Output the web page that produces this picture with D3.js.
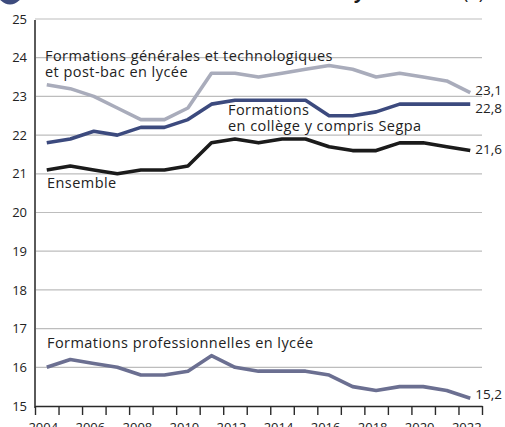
<!DOCTYPE html>
<html>
<head>
	<meta charset="utf-8">
	<title>Nombre moyen d'élèves</title>
	<script src="https://cdn.jsdelivr.net/npm/d3@7"></script>
	<style>
		body { margin: 0; background: #fff; }
		svg { display: block; font-family: "Open Sans", sans-serif; }
	</style>
</head>
<body>
<script type="text/javascript">

	//---- DATA ----//

	var years = d3.range(2004, 2023);
	var year_labels = [2004, 2006, 2008, 2010, 2012, 2014, 2016, 2018, 2020, 2022];
	var y_ticks = [15, 16, 17, 18, 19, 20, 21, 22, 23, 24, 25];

	var generales = [23.3, 23.2, 23.0, 22.7, 22.4, 22.4, 22.7, 23.6, 23.6, 23.5, 23.6, 23.7, 23.8, 23.7, 23.5, 23.6, 23.5, 23.4, 23.1];
	var college = [21.8, 21.9, 22.1, 22.0, 22.2, 22.2, 22.4, 22.8, 22.9, 22.9, 22.9, 22.9, 22.5, 22.5, 22.6, 22.8, 22.8, 22.8, 22.8];
	var ensemble = [21.1, 21.2, 21.1, 21.0, 21.1, 21.1, 21.2, 21.8, 21.9, 21.8, 21.9, 21.9, 21.7, 21.6, 21.6, 21.8, 21.8, 21.7, 21.6];
	var professionnelles = [16.0, 16.2, 16.1, 16.0, 15.8, 15.8, 15.9, 16.3, 16.0, 15.9, 15.9, 15.9, 15.8, 15.5, 15.4, 15.5, 15.5, 15.4, 15.2];

	var series = [
		{name: "generales", values: generales, color: "#a9acbb", end: "23,1", dy: -2},
		{name: "college", values: college, color: "#3c4a7e", end: "22,8", dy: 4},
		{name: "ensemble", values: ensemble, color: "#1b1b1b", end: "21,6", dy: -1},
		{name: "professionnelles", values: professionnelles, color: "#6b6f91", end: "15,2", dy: -4}
	];

	//---- CHART ----//

	var svg = d3.select("body").append("svg")
		.attr("width", 505)
		.attr("height", 427);

	var x = d3.scaleLinear().domain([2003.5, 2022.5]).range([35, 482]);
	var y = d3.scaleLinear().domain([15, 25]).range([406, 19]);

	// title (cut off at the top of the picture)
	svg.append("circle")
		.attr("cx", 10)
		.attr("cy", -8)
		.attr("r", 12.5)
		.attr("fill", "#3d4b7d");
	var title = svg.append("text")
		.attr("x", 484)
		.attr("y", -1)
		.attr("text-anchor", "end")
		.attr("font-size", 18)
		.attr("fill", "#1b1b1b");
	title.append("tspan")
		.attr("font-weight", "bold")
		.attr("font-style", "italic")
		.text("Nombre moyen d’élèves ");
	title.append("tspan").text("(1)");

	// gridlines
	svg.append("g")
		.selectAll("line")
		.data(y_ticks.slice(1))
		.enter()
			.append("line")
			.attr("x1", x(2003.5))
			.attr("x2", x(2022.5))
			.attr("y1", function(d) { return y(d); })
			.attr("y2", function(d) { return y(d); })
			.attr("stroke", "#bdbdbd")
			.attr("stroke-width", 1.2);

	// y axis
	var yAxis = svg.append("g")
		.attr("transform", "translate(" + x(2003.5) + ",0)")
		.call(d3.axisLeft(y).tickValues(y_ticks).tickSize(0).tickPadding(8));
	yAxis.select(".domain")
		.attr("stroke", "#5a5a5a")
		.attr("stroke-width", 2)
		.attr("d", "M0," + (y(25) + 1) + "V" + (y(15) + 2));
	yAxis.selectAll("text")
		.attr("font-size", 13)
		.attr("fill", "#222")
		.attr("font-family", "Open Sans, sans-serif");

	// x axis : ticks between the years
	var xAxis = svg.append("g")
		.attr("transform", "translate(0," + y(15) + ")")
		.call(d3.axisBottom(x)
			.tickValues(years.map(function(d) { return d - 0.5; }).concat([2022.5]))
			.tickSize(9)
			.tickSizeOuter(0)
			.tickFormat(""));
	xAxis.select(".domain").attr("stroke", "#2a2a2a").attr("stroke-width", 1.6);
	xAxis.selectAll(".tick line").attr("stroke", "#2a2a2a").attr("stroke-width", 1.4);

	var xLabels = svg.append("g")
		.attr("transform", "translate(-4," + y(15) + ")")
		.call(d3.axisBottom(x).tickValues(year_labels).tickSize(0).tickPadding(17).tickFormat(d3.format("d")));
	xLabels.select(".domain").remove();
	xLabels.selectAll("text")
		.attr("font-size", 13)
		.attr("fill", "#222")
		.attr("font-family", "Open Sans, sans-serif");

	// lines
	var line = d3.line()
		.x(function(d, i) { return x(years[i]); })
		.y(function(d) { return y(d); });

	svg.append("g")
		.selectAll("path")
		.data(series)
		.enter()
			.append("path")
			.attr("d", function(s) { return line(s.values); })
			.attr("fill", "none")
			.attr("stroke", function(s) { return s.color; })
			.attr("stroke-width", 3.6)
			.attr("stroke-linejoin", "round");

	// end values
	svg.append("g")
		.selectAll("text")
		.data(series)
		.enter()
			.append("text")
			.attr("x", x(2022) + 5)
			.attr("y", function(s) { return y(s.values[s.values.length - 1]) + s.dy; })
			.attr("dy", "0.35em")
			.attr("font-size", 13.5)
			.attr("fill", "#222")
			.text(function(s) { return s.end; });

	// series names
	var names = [
		{lines: ["Formations générales et technologiques", "et post-bac en lycée"], x: 45, y: 61},
		{lines: ["Formations", "en collège y compris Segpa"], x: 228, y: 115},
		{lines: ["Ensemble"], x: 47, y: 188},
		{lines: ["Formations professionnelles en lycée"], x: 47, y: 348}
	];

	svg.append("g")
		.selectAll("text")
		.data(names)
		.enter()
			.append("text")
			.attr("font-size", 14.5)
			.attr("letter-spacing", 0.45)
			.attr("fill", "#222")
			.each(function(d) {
				var t = d3.select(this);
				d.lines.forEach(function(l, i) {
					t.append("tspan")
						.attr("x", d.x)
						.attr("y", d.y + i * 15.5)
						.text(l);
				});
			});

</script>
</body>
</html>
